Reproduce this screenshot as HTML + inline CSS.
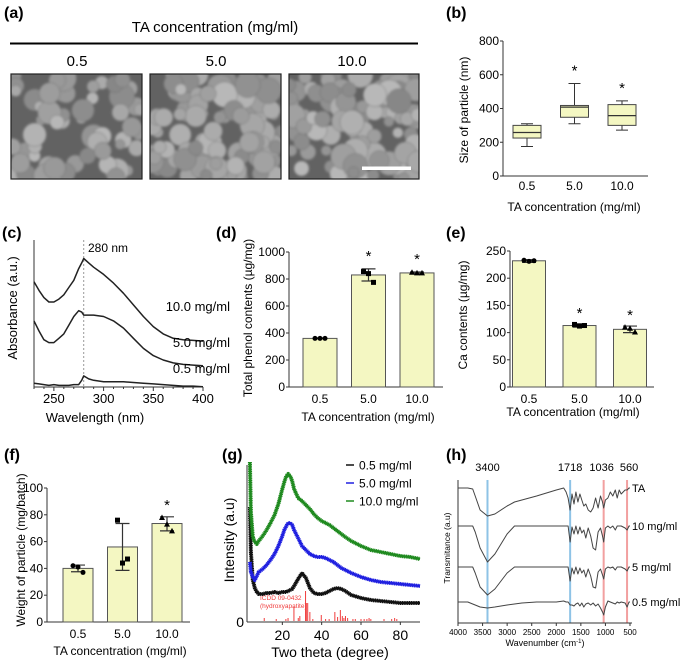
<!DOCTYPE html>
<html><head><meta charset="utf-8"><style>
html,body{margin:0;padding:0;background:#fff;}
svg{display:block;font-family:"Liberation Sans",sans-serif;}
</style></head><body>
<svg id="fig" width="685" height="663" viewBox="0 0 685 663" xmlns="http://www.w3.org/2000/svg">
<defs>
<filter id="blur1" x="-10%" y="-10%" width="120%" height="120%"><feGaussianBlur stdDeviation="1.4"/></filter>
<clipPath id="clipA1"><rect x="11" y="74" width="131" height="105"/></clipPath>
<clipPath id="clipA2"><rect x="150" y="74" width="131" height="105"/></clipPath>
<clipPath id="clipA3"><rect x="289" y="74" width="130" height="105"/></clipPath>
</defs>
<g font-weight="bold" font-size="16">
<text x="4" y="18">(a)</text>
<text x="446" y="18">(b)</text>
<text x="2" y="238">(c)</text>
<text x="216" y="238">(d)</text>
<text x="446" y="238">(e)</text>
<text x="4" y="460">(f)</text>
<text x="222" y="460">(g)</text>
<text x="446" y="460">(h)</text>
</g>
<g>
<text x="215" y="32" font-size="15" text-anchor="middle">TA concentration (mg/ml)</text>
<line x1="10" y1="43.5" x2="418" y2="43.5" stroke="#000" stroke-width="2"/>
<text x="77" y="66" font-size="15" text-anchor="middle">0.5</text>
<text x="216" y="66" font-size="15" text-anchor="middle">5.0</text>
<text x="352" y="66" font-size="15" text-anchor="middle">10.0</text>
<g id="sem1" clip-path="url(#clipA1)"></g>
<g id="sem2" clip-path="url(#clipA2)"></g>
<g id="sem3" clip-path="url(#clipA3)"></g>
<rect x="11" y="74" width="131" height="105" fill="none" stroke="#222" stroke-width="1.2"/>
<rect x="150" y="74" width="131" height="105" fill="none" stroke="#222" stroke-width="1.2"/>
<rect x="289" y="74" width="130" height="105" fill="none" stroke="#222" stroke-width="1.2"/>
<rect x="362" y="166.5" width="49" height="3.5" fill="#fff"/>
</g>
<g id="pb"></g>
<g id="pc"></g>
<g id="pd"></g>
<g id="pe"></g>
<g id="pf"></g>
<g id="pg"></g>
<g id="ph"></g>
</svg>
<script>
const concCats = ["0.5", "5.0", "10.0"];
const sizeMin = [175, 310, 272];
const sizeQ1 = [225, 348, 300];
const sizeMed = [258, 408, 358];
const sizeQ3 = [300, 418, 423];
const sizeMax = [310, 548, 445];
const sizeStars = [false, true, true];
const sizeTicks = [0, 200, 400, 600, 800];
const uvWave = [230, 235, 240, 245, 250, 255, 260, 265, 270, 275, 278, 280, 285, 290, 300, 310, 320, 330, 340, 350, 360, 370, 380, 390, 400];
const uv10 = [54, 48, 43, 40, 40, 42, 45, 50, 55, 63, 67, 70, 67, 64, 59, 53, 46, 38, 30, 23, 18, 15, 14, 13.5, 13];
const uv5 = [27, 20, 14, 12, 12, 15, 18, 24, 30, 34, 33, 31, 31, 31, 30, 27, 22, 15, 8, 3, 0, -2, -3, -3.5, -4];
const uv05 = [-16, -16.5, -17, -17.5, -17, -17.5, -17.5, -17.5, -17, -17, -14, -11, -13, -14, -15, -15, -15, -15.5, -16, -16.5, -17, -17.5, -18, -18, -18.5];
const uvTicks = [250, 300, 350, 400];
const phenolMean = [360, 830, 845];
const phenolLo = [357, 785, 838];
const phenolHi = [363, 875, 852];
const phenolPts = [[360, 360, 360], [855, 840, 775], [850, 845, 845]];
const phenolStars = [false, true, true];
const phenolTicks = [0, 200, 400, 600, 800, 1000];
const caMean = [232, 113, 106];
const caLo = [229, 110, 100];
const caHi = [234, 116, 112];
const caPts = [[233, 231, 232], [115, 112, 113], [110, 108, 101]];
const caStars = [false, true, true];
const caTicks = [0, 50, 100, 150, 200, 250];
const wMean = [40, 56, 73.5];
const wLo = [37.5, 38.5, 68];
const wHi = [42.5, 73.5, 78.5];
const wPts = [[42, 41, 37], [76, 44, 47], [78, 73, 68]];
const wStars = [false, false, true];
const wTicks = [0, 20, 40, 60, 80, 100];
const xrdTheta = [3.5, 4, 5, 6, 7, 8, 10, 12, 14, 16, 18, 20, 21, 22, 23, 24, 25, 26, 28, 30, 32, 34, 36, 38, 40, 42, 44, 46, 48, 50, 52, 55, 60, 65, 70, 75, 80, 85, 90];
const xrd05 = [115, 70, 42, 34, 30, 28, 28, 29, 29, 30, 29, 30, 30, 30, 31, 32, 33, 36, 43, 49, 44, 34, 29, 28, 28, 29, 31, 33, 34, 33, 31, 27, 24, 22, 21, 20, 19, 19, 19];
const xrd50 = [60, 50, 45, 42, 46, 50, 53, 57, 62, 68, 76, 86, 92, 96, 99, 99, 97, 92, 84, 76, 72, 68, 66, 65, 65, 64, 62, 60, 57, 54, 52, 49, 45, 42, 40, 39, 38, 37, 36];
const xrd100 = [160, 110, 85, 80, 78, 81, 86, 92, 99, 107, 118, 133, 140, 146, 148, 146, 141, 133, 124, 121, 117, 113, 108, 104, 101, 99, 97, 94, 91, 88, 85, 81, 76, 72, 70, 68, 66, 65, 63];
const icddTheta = [10.8, 16.9, 21.8, 22.9, 25.9, 28.1, 28.9, 31.8, 32.2, 32.9, 34.0, 35.5, 39.8, 42.0, 43.8, 46.7, 48.1, 49.5, 50.5, 51.3, 52.1, 53.2, 55.9, 57.1, 60.0, 61.6, 63.0, 64.1, 65.0, 71.7, 75.6, 77.1, 78.2];
const icddInt = [3, 2, 2, 3, 14, 3, 5, 30, 18, 18, 9, 2, 6, 2, 2, 9, 4, 11, 5, 3, 5, 3, 2, 2, 2, 2, 2, 3, 2, 2, 2, 3, 2];
const xrdTicks = [20, 40, 60, 80];
const xrdLegend = ["0.5 mg/ml", "5.0 mg/ml", "10.0 mg/ml"];
const irWave = [4000, 3800, 3700, 3650, 3550, 3400, 3250, 3000, 2850, 2700, 2400, 2000, 1850, 1800, 1760, 1718, 1680, 1640, 1600, 1560, 1520, 1480, 1440, 1400, 1350, 1300, 1250, 1200, 1150, 1100, 1060, 1036, 1000, 950, 900, 850, 800, 760, 720, 680, 600, 560, 520, 500];
const irTA = [0, 0, -1, -8, -22, -28, -26, -18, -14, -12, -8, -2, 0, -4, -10, -22, -6, -16, -4, -14, -6, -12, -18, -16, -22, -24, -20, -10, -20, -8, -14, -20, -12, -10, -4, -8, -2, -10, -2, -6, -2, -2, 0, 0];
const ir10 = [0, 0, 0, -6, -22, -36, -28, -8, 0, 0, 0, 0, 0, 0, 0, -16, -1, -8, 0, -8, -1, -7, -4, -12, -2, -10, -22, -24, -6, -2, -10, -16, -2, 0, -2, 0, -4, 0, 0, 0, -2, -4, 0, 0];
const ir5 = [0, 0, 0, -6, -20, -28, -22, -6, 0, 0, 0, 0, 0, 0, 0, -14, -1, -7, 0, -7, -1, -6, -3, -10, -2, -9, -20, -21, -5, -2, -8, -12, -2, 0, -1, 0, -3, 0, 0, 0, -2, -4, 0, 0];
const ir05 = [0, 0, -2, -3, -5, -6, -5, -3, -2, -1, 0, 0, 1, 0, 0, -3, -3, -4, -2, -1, -4, -1, -5, -2, -1, -3, -1, -4, -2, -6, -10, -13, -5, 1, 0, -1, -2, 0, -1, 0, -1, -5, 0, 0];
const irMarks = [3400, 1718, 1036, 560];
const irMarkColors = ["#8ec3e6", "#8ec3e6", "#f2a0a0", "#f2a0a0"];
const irTicks = [4000, 3500, 3000, 2500, 2000, 1500, 1000, 500];
const irLabels = ["TA", "10 mg/ml", "5 mg/ml", "0.5 mg/ml"];

const NS = "http://www.w3.org/2000/svg";
function mk(parent, tag, attrs, txt) {
  const e = document.createElementNS(NS, tag);
  for (const k in attrs) e.setAttribute(k, attrs[k]);
  if (txt !== undefined) e.textContent = txt;
  parent.appendChild(e);
  return e;
}
function lin(d0, d1, r0, r1) { return v => r0 + (v - d0) * (r1 - r0) / (d1 - d0); }
const BAR = "#f4f7c2";

function sem(id, x0, y0, w, h, seed, density) {
  const g = document.getElementById(id);
  let s = seed;
  const rnd = () => { s = (s * 9301 + 49297) % 233280; return s / 233280; };
  let r = mk(g, "rect", { x: x0, y: y0, width: w, height: h, fill: "#626262" });
  
  
  const grp = mk(g, "g", { filter: "url(#blur1)" });
  
  
  for (let i = 0; i < density; i++) {
    const cx = x0 + rnd() * w, cy = y0 + rnd() * h;
    const rr = 5 + rnd() * 8;
    const shade = 135 + Math.floor(rnd() * 50);
    const c = mk(grp, "circle", { cx: cx, cy: cy, r: rr, fill: `rgb(${shade},${shade},${shade})`, stroke: "#6a6a6a", "stroke-width": 0.5 });
    
    
  }
}
sem("sem1", 11, 74, 131, 105, 17, 60);
sem("sem2", 150, 74, 131, 105, 91, 95);
sem("sem3", 289, 74, 130, 105, 53, 100);

function yAxis(g, x, yb, yt, ticks, sc, fs) {
  let a = mk(g, "line", { x1: x, y1: yb, x2: x, y2: yt, stroke: "#333", "stroke-width": 1 });
  
  
  ticks.forEach(t => {
    const y = sc(t);
    let tk = mk(g, "line", { x1: x - 3, y1: y, x2: x, y2: y, stroke: "#333" });
    
    
    let tl = mk(g, "text", { x: x - 4, y: y + 4, "font-size": fs, "text-anchor": "end" }, String(t));
    
    
  });
}

function barChart(id, cfg) {
  const g = document.getElementById(id);
  const sy = lin(0, cfg.max, cfg.yb, cfg.yt);
  const cx = i => cfg.c0 + i * cfg.step;
  yAxis(g, cfg.x, cfg.yb, cfg.yt, cfg.ticks, sy, 12);
  let xa = mk(g, "line", { x1: cfg.x, y1: cfg.yb, x2: cfg.xEnd, y2: cfg.yb, stroke: "#333" });
  
  
  concCats.forEach((c, i) => {
    const x = cx(i);
    let b = mk(g, "rect", { x: x - cfg.bw / 2, y: sy(cfg.mean[i]), width: cfg.bw, height: cfg.yb - sy(cfg.mean[i]), fill: BAR, stroke: "#555", "stroke-width": 1 });
    
    
    let e = mk(g, "path", { d: `M${x},${sy(cfg.lo[i])}V${sy(cfg.hi[i])}M${x - 7},${sy(cfg.lo[i])}h14M${x - 7},${sy(cfg.hi[i])}h14`, stroke: "#333", "stroke-width": 1.2, fill: "none" });
    
    
    cfg.pts[i].forEach((v, j) => {
      const px = x + (j - 1) * 5, py = sy(v);
      let m;
      if (i === 0) m = mk(g, "circle", { cx: px, cy: py, r: 2.5, fill: "#000" });
      else if (i === 1) m = mk(g, "rect", { x: px - 2.5, y: py - 2.5, width: 5, height: 5, fill: "#000" });
      else m = mk(g, "path", { d: `M${px},${py - 3}L${px + 3},${py + 2.5}L${px - 3},${py + 2.5}Z`, fill: "#000" });
      
      
    });
    if (cfg.stars[i]) {
      let st = mk(g, "text", { x: x, y: sy(cfg.hi[i]) - cfg.starGap, "font-size": 15, "text-anchor": "middle" }, "*");
      
      
    }
    let tl = mk(g, "text", { x: x, y: cfg.yb + 16, "font-size": 12, "text-anchor": "middle" }, c);
    
    
  });
  let xt = mk(g, "text", { x: cfg.xlx, y: cfg.xly, "font-size": 12, "text-anchor": "middle" }, cfg.xlabel);
  
  
  let yt = mk(g, "text", { transform: `translate(${cfg.ylx},${cfg.yly}) rotate(-90)`, "font-size": 12, "text-anchor": "middle" }, cfg.ylabel);
  
  
}
barChart("pd", { x: 289, xEnd: 443, yb: 387, yt: 252, max: 1000, ticks: phenolTicks, c0: 320, step: 48.5, bw: 34,
  mean: phenolMean, lo: phenolLo, hi: phenolHi, pts: phenolPts, stars: phenolStars, starGap: 8,
  xlabel: "TA concentration (mg/ml)", xlx: 368, xly: 421, ylabel: "Total phenol contents (\u00b5g/mg)", ylx: 252, yly: 318 });
barChart("pe", { x: 510, xEnd: 654, yb: 387, yt: 251, max: 250, ticks: caTicks, c0: 529, step: 50.5, bw: 33,
  mean: caMean, lo: caLo, hi: caHi, pts: caPts, stars: caStars, starGap: 6,
  xlabel: "TA concentration  (mg/ml)", xlx: 573, xly: 416, ylabel: "Ca contents (\u00b5g/mg)", ylx: 467, yly: 315 });
barChart("pf", { x: 47, xEnd: 190, yb: 622, yt: 488, max: 100, ticks: wTicks, c0: 78, step: 44.5, bw: 30,
  mean: wMean, lo: wLo, hi: wHi, pts: wPts, stars: wStars, starGap: 7,
  xlabel: "TA concentration (mg/ml)", xlx: 120, xly: 655, ylabel: "Weight of particle (mg/batch)", ylx: 25, yly: 550 });

(function () {
  const g = document.getElementById("pb");
  const x0 = 503, yb = 176, yt = 41;
  const sy = lin(0, 800, yb, yt);
  const cx = i => 527 + i * 47.5;
  yAxis(g, x0, yb, yt, sizeTicks, sy, 12);
  let xa = mk(g, "line", { x1: x0, y1: yb, x2: 648, y2: yb, stroke: "#333" });
  
  
  concCats.forEach((c, i) => {
    const x = cx(i), hw = 14;
    let w = mk(g, "path", { d: `M${x},${sy(sizeMin[i])}V${sy(sizeQ1[i])}M${x},${sy(sizeQ3[i])}V${sy(sizeMax[i])}M${x - 6},${sy(sizeMin[i])}h12M${x - 6},${sy(sizeMax[i])}h12`, stroke: "#333", fill: "none" });
    
    
    let b = mk(g, "rect", { x: x - hw, y: sy(sizeQ3[i]), width: hw * 2, height: sy(sizeQ1[i]) - sy(sizeQ3[i]), fill: BAR, stroke: "#444" });
    
    
    let m = mk(g, "line", { x1: x - hw, x2: x + hw, y1: sy(sizeMed[i]), y2: sy(sizeMed[i]), stroke: "#333", "stroke-width": 1.3 });
    
    
    if (sizeStars[i]) {
      let st = mk(g, "text", { x: x, y: sy(sizeMax[i]) - 8, "font-size": 15, "text-anchor": "middle" }, "*");
      
      
    }
    let tl = mk(g, "text", { x: x, y: 190, "font-size": 12, "text-anchor": "middle" }, c);
    
    
  });
  let xt = mk(g, "text", { x: 574, y: 211, "font-size": 12, "text-anchor": "middle" }, "TA concentration  (mg/ml)");
  
  
  let yt2 = mk(g, "text", { transform: "translate(468,110) rotate(-90)", "font-size": 12, "text-anchor": "middle" }, "Size of particle  (nm)");
  
  
})();

(function () {
  const g = document.getElementById("pc");
  const sx = lin(230, 400, 34, 203);
  const sy = v => 360 - v * 1.45;
  let ya = mk(g, "line", { x1: 34, y1: 240, x2: 34, y2: 387, stroke: "#333" });
  
  
  let xa = mk(g, "line", { x1: 34, y1: 387, x2: 203, y2: 387, stroke: "#333" });
  
  
  for (let v = 230; v <= 400; v += 10) {
    const major = v % 50 === 0;
    let t = mk(g, "line", { x1: sx(v), x2: sx(v), y1: 387, y2: 387 + (major ? 4 : 2), stroke: "#333" });
    
    
  }
  uvTicks.forEach(v => {
    let tl = mk(g, "text", { x: sx(v), y: 403, "font-size": 13, "text-anchor": "middle" }, String(v));
    
    
  });
  let dl = mk(g, "line", { x1: sx(280), x2: sx(280), y1: 240, y2: 387, stroke: "#999", "stroke-dasharray": "2,2" });
  
  
  let dt = mk(g, "text", { x: 88, y: 252, "font-size": 12 }, "280 nm");
  
  
  [[uv10, "10.0 mg/ml", 311, 'line-10-0'], [uv5, "5.0 mg/ml", 347, 'line-5-0'], [uv05, "0.5 mg/ml", 373, 'line-0-5']].forEach(s => {
    const d = uvWave.map((w, i) => (i ? "L" : "M") + sx(w).toFixed(1) + "," + sy(s[0][i]).toFixed(1)).join("");
    let p = mk(g, "path", { d: d, fill: "none", stroke: "#222", "stroke-width": 1.5, "stroke-linejoin": "round" });
    
    
    let l = mk(g, "text", { x: 230, y: s[2], "font-size": 13, "text-anchor": "end" }, s[1]);
    
    
  });
  let xt = mk(g, "text", { x: 95, y: 422, "font-size": 13, "text-anchor": "middle" }, "Wavelength (nm)");
  
  
  let yt = mk(g, "text", { transform: "translate(17,308) rotate(-90)", "font-size": 13, "text-anchor": "middle" }, "Absorbance (a.u.)");
  
  
})();

(function () {
  const g = document.getElementById("pg");
  const sx = lin(0, 90, 243, 420);
  const sy = v => 622 - v;
  let ya = mk(g, "line", { x1: 247, y1: 465, x2: 247, y2: 622, stroke: "#333" });
  
  
  let xa = mk(g, "line", { x1: 247, y1: 622, x2: 420, y2: 622, stroke: "#333" });
  
  
  xrdTicks.forEach(v => {
    let t = mk(g, "line", { x1: sx(v), x2: sx(v), y1: 622, y2: 625, stroke: "#333" });
    
    
    let tl = mk(g, "text", { x: sx(v), y: 640, "font-size": 14, "text-anchor": "middle" }, String(v));
    
    
  });
  let z = mk(g, "text", { x: 244, y: 627, "font-size": 14, "text-anchor": "end" }, "0");
  
  
  icddTheta.forEach((t, i) => {
    let s = mk(g, "line", { x1: sx(t), x2: sx(t), y1: 621, y2: 621 - icddInt[i], stroke: "#f03c3c", "stroke-width": 1 });
    
    
  });
  let i1 = mk(g, "text", { x: 260, y: 600, "font-size": 6.5, fill: "#f03c3c" }, "ICDD 09-0432");
  
  
  let i2 = mk(g, "text", { x: 260, y: 608, "font-size": 6.5, fill: "#f03c3c" }, "(hydroxyapatite)");
  
  
  const cols = ["#111", "#2020e0", "#1f8a1f"];
  [xrd05, xrd50, xrd100].forEach((ser, k) => {
    const d = xrdTheta.map((t, i) => (i ? "L" : "M") + sx(t).toFixed(1) + "," + sy(ser[i]).toFixed(1)).join("");
    let p = mk(g, "path", { d: d, fill: "none", stroke: cols[k], "stroke-width": 4, "stroke-linejoin": "round", "stroke-dasharray": "1.2,0.6" });
    
    
    let p2 = mk(g, "path", { d: d, fill: "none", stroke: cols[k], "stroke-width": 2.5, "stroke-linejoin": "round" });
    
    
    const ly = 465 + k * 18;
    let ll = mk(g, "line", { x1: 346, x2: 354, y1: ly, y2: ly, stroke: cols[k], "stroke-width": 1.5 });
    
    
    let lt = mk(g, "text", { x: 359, y: ly + 4.5, "font-size": 12 }, xrdLegend[k]);
    
    
  });
  let xt = mk(g, "text", { x: 330, y: 657, "font-size": 14, "text-anchor": "middle" }, "Two theta (degree)");
  
  
  let yt = mk(g, "text", { transform: "translate(234,540) rotate(-90)", "font-size": 14, "text-anchor": "middle" }, "Intensity (a.u)");
  
  
})();

(function () {
  const g = document.getElementById("ph");
  const sx = lin(4000, 500, 458, 630);
  const bases = [488, 526, 567, 602];
  const sers = [irTA, ir10, ir5, ir05];
  irMarks.forEach((w, i) => {
    let v = mk(g, "line", { x1: sx(w), x2: sx(w), y1: 480, y2: 623, stroke: irMarkColors[i], "stroke-width": 2 });
    
    
    let t = mk(g, "text", { x: sx(w) + (w === 1036 ? -2 : w === 560 ? 2 : 0), y: 471, "font-size": 11, "text-anchor": "middle" }, String(w));
    
    
  });
  let ya = mk(g, "line", { x1: 458, y1: 480, x2: 458, y2: 623, stroke: "#333" });
  
  
  let xa = mk(g, "line", { x1: 458, y1: 623, x2: 632, y2: 623, stroke: "#333" });
  
  
  irTicks.forEach(v => {
    let t = mk(g, "line", { x1: sx(v), x2: sx(v), y1: 623, y2: 626, stroke: "#333" });
    
    
    let tl = mk(g, "text", { x: sx(v), y: 635, "font-size": 8, "text-anchor": "middle" }, String(v));
    
    
  });
  sers.forEach((ser, k) => {
    const d = irWave.map((w, i) => (i ? "L" : "M") + sx(w).toFixed(1) + "," + (bases[k] - ser[i]).toFixed(1)).join("");
    let p = mk(g, "path", { d: d, fill: "none", stroke: "#444", "stroke-width": 1, "stroke-linejoin": "round" });
    
    
    let l = mk(g, "text", { x: 632, y: bases[k] + 4, "font-size": 11 }, irLabels[k]);
    
    
  });
  let xt = mk(g, "text", { x: 545, y: 646, "font-size": 9, "text-anchor": "middle" }, "Wavenumber (cm");
  
  
  const sup = mk(xt, "tspan", { "font-size": 6, dy: -3 }, "-1");
  
  
  const cl = mk(xt, "tspan", { dy: 3 }, ")");
  
  
  let yt = mk(g, "text", { transform: "translate(450,548) rotate(-90)", "font-size": 8.5, "text-anchor": "middle" }, "Transmitance (a.u)");
  
  
})();
</script>
</body></html>
